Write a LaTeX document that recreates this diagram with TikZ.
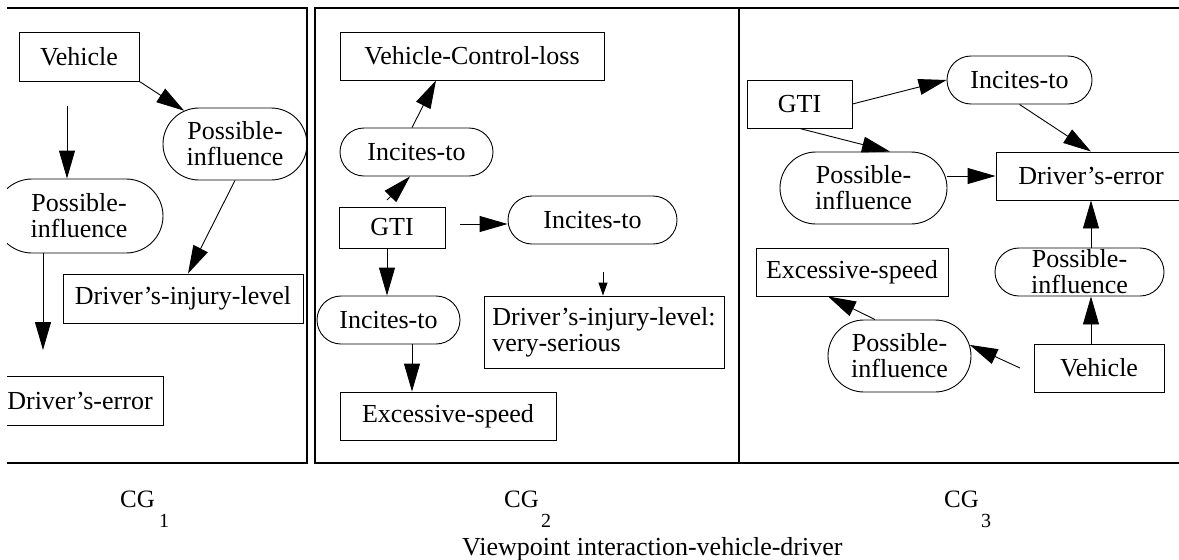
\documentclass[tikz,border=0pt]{standalone}
\usepackage{fontspec}
\setmainfont{Liberation Serif}
\usetikzlibrary{arrows.meta,shapes.misc}
\begin{document}
\begin{tikzpicture}[x=1pt,y=-1pt,
  every node/.style={font=\fontsize{26}{26}\selectfont, inner sep=0pt},
  box/.style={draw, line width=0.9pt, rectangle, inner sep=0pt},
  pill/.style={draw, line width=0.9pt, rounded rectangle, inner sep=0pt, align=center},
  arr/.style={line width=0.9pt, -{Triangle[length=28pt,width=16pt]}},
  sarr/.style={line width=0.9pt, -{Triangle[length=13pt,width=9pt]}},
  frame/.style={line width=1.2pt},
  lbl/.style={font=\fontsize{25}{25}\selectfont, anchor=base west},
  sublbl/.style={font=\fontsize{20}{20}\selectfont, anchor=base west}]
\useasboundingbox (0,0) rectangle (1179,560);

% ---------- Panel 1 ----------
\begin{scope}
\clip (7,0) rectangle (320,470);
\draw[frame] (7,8) -- (307,8) -- (307,463) -- (7,463);
\node[box, minimum width=120pt, minimum height=49pt] (v1) at (79,56.5) {Vehicle};
\node[pill, minimum width=144pt, minimum height=72pt] (pi1a) at (235,144) {Possible-\\influence};
\node[pill, minimum width=168pt, minimum height=74pt] (pi1b) at (79,216) {Possible-\\influence};
\node[box, minimum width=240pt, minimum height=49pt] (dil1) at (183,298.5) {Driver's-injury-level};
\node[box, minimum width=166pt, minimum height=49pt] (de1) at (80,400.5) {Driver's-error};
\coordinate (c1a) at (67,106);
\coordinate (c1b) at (43,350);
\draw[arr] (v1.south east) -- (pi1a);
\draw[arr] (c1a) -- (c1a |- pi1b.north);
\draw[arr] (c1b |- pi1b.south) -- (c1b);
\draw[arr] (pi1a.south) -- ([xshift=5pt]dil1.north);
\end{scope}

% ---------- Panel 2 ----------
\draw[frame] (315,8) rectangle (739,463);
\node[box, minimum width=264pt, minimum height=48pt] (vcl) at (472,56) {Vehicle-Control-loss};
\node[pill, minimum width=153pt, minimum height=48pt] (it2a) at (416.5,152) {Incites-to};
\node[box, minimum width=106pt, minimum height=41pt] (gti2) at (392,227.5) {GTI};
\node[pill, minimum width=169pt, minimum height=48pt] (it2b) at (592.5,220) {Incites-to};
\node[box, minimum width=240pt, minimum height=72pt, align=left] (dil2) at (604,332) {Driver's-injury-level:\\very-serious};
\node[pill, minimum width=143pt, minimum height=48pt] (it2c) at (388.5,320) {Incites-to};
\node[box, minimum width=216pt, minimum height=48pt] (es2) at (448,416) {Excessive-speed};
\coordinate (c2a) at (387,200);
\coordinate (c2b) at (460,224);
\coordinate (c2c) at (603,272);
\draw[arr] ([xshift=-4.5pt]it2a.north) -- ([xshift=-36pt]vcl.south);
\draw[arr] (c2a) -- ([xshift=-6.5pt]it2a.south);
\draw[arr] (c2b) -- (c2b -| it2b.west);
\draw[sarr] (c2c) -- (c2c |- dil2.north);
\draw[arr] ([xshift=-5pt]gti2.south) -- ([xshift=-5pt]gti2.south |- it2c.north);
\draw[arr] ([xshift=23.5pt]it2c.south) -- ([xshift=23.5pt]it2c.south |- es2.north);

% ---------- Panel 3 ----------
\begin{scope}
\clip (700,0) rectangle (1179,470);
\draw[frame] (1190,8) -- (739,8) -- (739,463) -- (1190,463);
\node[box, minimum width=105pt, minimum height=48pt] (gti3) at (799.5,104) {GTI};
\node[pill, minimum width=145pt, minimum height=48pt] (it3) at (1019.5,80) {Incites-to};
\node[box, minimum width=190pt, minimum height=48pt] (de3) at (1091,176) {Driver's-error};
\node[pill, minimum width=167pt, minimum height=72pt] (pi3a) at (863.5,188) {Possible-\\influence};
\node[box, minimum width=192pt, minimum height=48pt] (es3) at (852,272) {Excessive-speed};
\node[pill, minimum width=169pt, minimum height=48pt,
  label={[align=center]center:{Possible-\\influence}}] (pi3b) at (1079.5,272) {};
\node[box, minimum width=130pt, minimum height=48pt] (v3) at (1099,368) {Vehicle};
\node[pill, minimum width=143pt, minimum height=72pt] (pi3c) at (899.5,356) {Possible-\\influence};
\coordinate (c3a) at (1020,368);
\draw[arr] (gti3.east) -- (it3.west);
\draw[arr] (it3.south) -- (de3.north);
\draw[arr] (gti3.south) -- ([xshift=26.5pt]pi3a.north);
\draw[arr] (pi3a.east |- de3.west) -- (de3.west);
\draw[arr] (pi3b.north -| de3.south) -- (de3.south);
\draw[arr] (v3.north -| de3.south) -- (pi3b.south -| de3.south);
\draw[arr] (c3a) -- (pi3c.9);
\draw[arr] ([xshift=-24.5pt]pi3c.north) -- ([xshift=-24pt]es3.south);
\end{scope}

% ---------- Labels ----------
\node[lbl] (cg1) at (120,507) {CG};
\node[sublbl] (cg1s) at (159,527) {1};
\node[lbl] (cg2) at (504,507) {CG};
\node[sublbl] (cg2s) at (541,527) {2};
\node[lbl] (cg3) at (944,507) {CG};
\node[sublbl] (cg3s) at (981,527) {3};
\node[lbl, font=\fontsize{26}{26}\selectfont] (vp) at (462,555) {Viewpoint interaction-vehicle-driver};
\end{tikzpicture}
\end{document}
